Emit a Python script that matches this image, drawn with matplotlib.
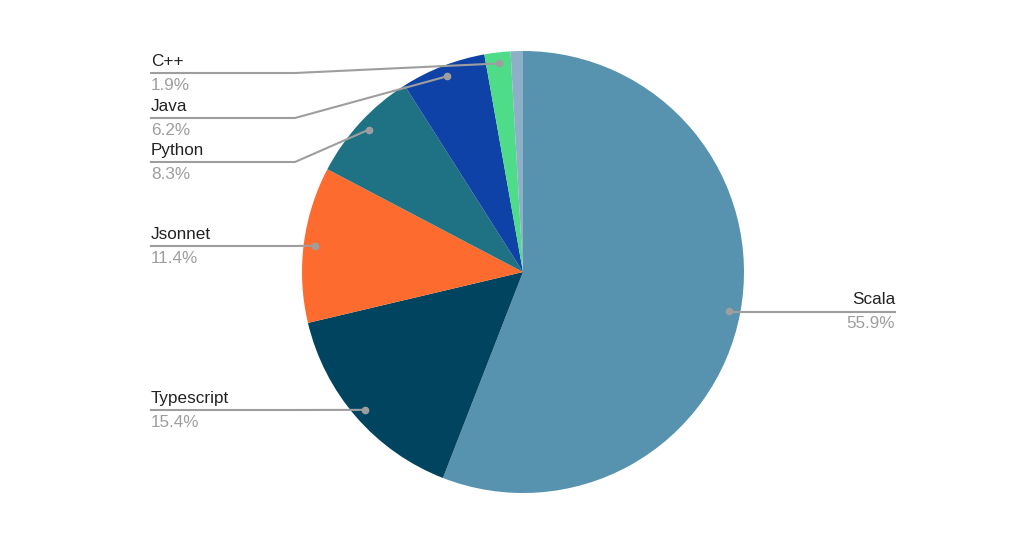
import numpy as np
import matplotlib.pyplot as plt

plt.rcParams['font.family'] = ['Liberation Sans', 'DejaVu Sans']

# ============================
# Datos
# ============================
languages = ['Scala', 'Typescript', 'Jsonnet', 'Python', 'Java', 'C++', 'Other']
shares = [55.9, 15.4, 11.4, 8.3, 6.2, 1.9, 0.9]
slice_colors = ['#5793ae', '#01445f', '#fd6c2e', '#1e7283', '#0f42a7', '#4fdc89', '#8eafc8']

# ============================
# Figura (coordenadas en píxeles)
# ============================
W, H = 1024, 538
fig = plt.figure(figsize=(W / 100, H / 100), dpi=100)
ax = fig.add_axes([0, 0, 1, 1])

cx, cy, R = 523, H - 272, 221
wedges, _ = ax.pie(shares, colors=slice_colors, startangle=90, counterclock=False,
                   center=(cx, cy), radius=R, wedgeprops=dict(linewidth=0))
ax.set_xlim(0, W)
ax.set_ylim(0, H)
ax.axis('off')

line_col = '#9e9e9e'
text_col = '#222222'
fs = 12.3

# posición de la línea de cada etiqueta (y en píxeles desde arriba)
label_line_y = {'Scala': 312, 'Typescript': 410, 'Jsonnet': 246,
                'Python': 162, 'Java': 118, 'C++': 73}
left_x, elbow_x, right_x = 151, 295, 895

for w, name, val in zip(wedges, languages, shares):
    if name not in label_line_y:
        continue
    mid = np.deg2rad((w.theta1 + w.theta2) / 2)
    r_dot = 0.95 * R
    dx, dy = cx + r_dot * np.cos(mid), cy + r_dot * np.sin(mid)
    ly = H - label_line_y[name]
    ax.plot([dx], [dy], 'o', color=line_col, ms=4.5, zorder=5)
    if dx > cx:
        ax.plot([dx, right_x], [ly, ly], color=line_col, lw=1.5)
        ax.text(right_x, ly + 12, name, ha='right', va='center', fontsize=fs, color=text_col)
        ax.text(right_x, ly - 12, f'{val}%', ha='right', va='center', fontsize=fs, color=line_col)
    else:
        ex = min(dx, elbow_x)
        ax.plot([dx, ex, left_x], [dy, ly, ly], color=line_col, lw=1.5)
        ax.text(left_x, ly + 11.5, name, ha='left', va='center', fontsize=fs, color=text_col)
        ax.text(left_x, ly - 12.5, f'{val}%', ha='left', va='center', fontsize=fs, color=line_col)

fig.savefig('out.png', dpi=100)
